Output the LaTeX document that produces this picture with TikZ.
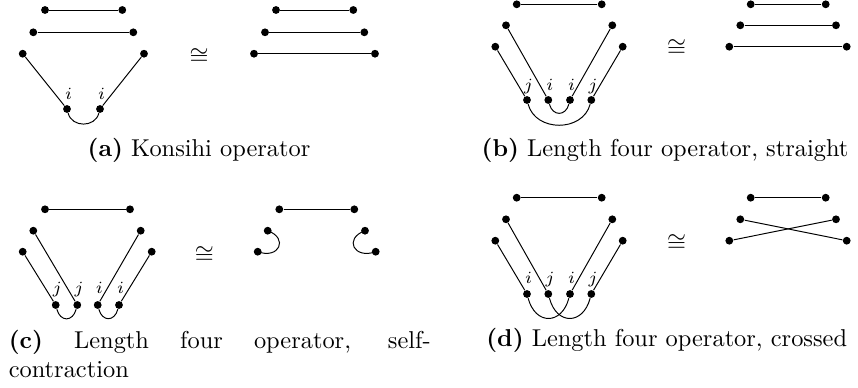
\documentclass[tikz,border=0pt]{standalone}
\usepackage{amsmath, amssymb}

\begin{document}
\begin{tikzpicture}[x=0.41pt, y=0.41pt,
    ponto/.style={circle, fill, inner sep=0pt, minimum size=3.2pt},
    indice/.style={anchor=base, inner sep=0pt, font=\fontsize{7}{8}\selectfont},
    equiv/.style={inner sep=0pt, font=\fontsize{10}{12}\selectfont},
    legenda/.style={anchor=base, inner sep=0pt}]
    \useasboundingbox (0,0) rectangle (858,-387);

    % (a) Konsihi
    \foreach \n/\x/\y in {a1/45/10, a2/122.3/10, a3/33.3/32.3, a4/133.3/32.3,
                          a5/22.7/53.7, a6/144/53.7, a7/67/109, a8/100/109}
        \node[ponto] (\n) at (\x,-\y) {};
    \draw (a1) -- (a2);
    \draw (a3) -- (a4);
    \draw (a5) -- (a7);
    \draw (a6) -- (a8);
    \draw (a7) to[out=-75, in=-105, looseness=1.25] (a8);
    \foreach \n/\x/\y/\t in {ia1/68.5/99/i, ia2/101.5/99/i}
        \node[indice] (\n) at (\x,-\y) {$\t$};
    \node[equiv] (ea) at (199,-56.5) {$\cong$};
    \foreach \n/\x/\y in {ar1/276/10, ar2/353.3/10, ar3/265/32.3, ar4/364.3/32.3,
                          ar5/254/53.7, ar6/375/53.7}
        \node[ponto] (\n) at (\x,-\y) {};
    \draw (ar1) -- (ar2);
    \draw (ar3) -- (ar4);
    \draw (ar5) -- (ar6);
    \node[legenda] (la) at (199,-156) {\textbf{(a)} Konsihi operator};

    % (b) comprimento quatro, reto
    \foreach \n/\x/\y in {b1/516.7/4.3, b2/601.7/4.3, b3/506/25.3, b4/612.3/25.3,
                          b5/495.3/46.7, b6/622.7/46.7, b7/527/100, b8/548.3/100,
                          b9/570/100, b10/591.3/100}
        \node[ponto] (\n) at (\x,-\y) {};
    \draw (b1) -- (b2);
    \draw (b5) -- (b7);
    \draw (b3) -- (b8);
    \draw (b4) -- (b9);
    \draw (b6) -- (b10);
    \draw (b8) to[out=-75, in=-105, looseness=1.66] (b9);
    \draw (b7) to[out=-75, in=-105, looseness=1.2] (b10);
    \foreach \n/\x/\y/\t in {ib1/528.5/90.7/j, ib2/549.8/90.7/i,
                             ib3/571.5/90.7/i, ib4/592.8/90.7/j}
        \node[indice] (\n) at (\x,-\y) {$\t$};
    \node[equiv] (eb) at (676.7,-48.3) {$\cong$};
    \foreach \n/\x/\y in {br1/750.7/4.3, br2/825.7/4.3, br3/740.3/25.3, br4/836/25.3,
                          br5/729.3/46.7, br6/846.7/46.7}
        \node[ponto] (\n) at (\x,-\y) {};
    \draw (br1) -- (br2);
    \draw (br3) -- (br4);
    \draw (br5) -- (br6);
    \node[legenda] (lb) at (665,-156) {\textbf{(b)} Length four operator, straight};

    % (c) comprimento quatro, autocontracao
    \foreach \n/\x/\y in {c1/45/209.3, c2/130/209.3, c3/33.3/230.7, c4/140.7/230.7,
                          c5/22.7/251.7, c6/151.7/251.7, c7/55.7/305, c8/77.3/305,
                          c9/97.7/305, c10/119/305}
        \node[ponto] (\n) at (\x,-\y) {};
    \draw (c1) -- (c2);
    \draw (c5) -- (c7);
    \draw (c3) -- (c8);
    \draw (c4) -- (c9);
    \draw (c6) -- (c10);
    \draw (c7) to[out=-75, in=-105, looseness=1.76] (c8);
    \draw (c9) to[out=-75, in=-105, looseness=1.76] (c10);
    \foreach \n/\x/\y/\t in {ic1/57.2/293/j, ic2/78.8/293/j,
                             ic3/99.2/293/i, ic4/120.5/293/i}
        \node[indice] (\n) at (\x,-\y) {$\t$};
    \node[equiv] (ec) at (204.3,-255) {$\cong$};
    \foreach \n/\x/\y in {cr1/279.3/209.3, cr2/354.3/209.3, cr3/267.7/230.7,
                          cr4/257.7/251.7, cr5/365/230.7, cr6/375.7/251.7}
        \node[ponto] (\n) at (\x,-\y) {};
    \draw (cr1) -- (cr2);
    \draw (cr3.center) to[out=-20, in=-20, looseness=2.5] (cr4.center);
    \draw (cr5.center) to[out=-160, in=-160, looseness=2.5] (cr6.center);
    \node[legenda, anchor=base west, text width=173pt, align=justify] (lc) at (8.3,-348.3)
        {\textbf{(c)} Length four operator, self-\linebreak contraction};

    % (d) comprimento quatro, cruzado
    \foreach \n/\x/\y in {d1/516.7/197.7, d2/601.7/197.7, d3/506/219.3, d4/612.3/219.3,
                          d5/495.3/240.7, d6/622.7/240.7, d7/527/294, d8/548.3/294,
                          d9/570/294, d10/591.3/294}
        \node[ponto] (\n) at (\x,-\y) {};
    \draw (d1) -- (d2);
    \draw (d5) -- (d7);
    \draw (d3) -- (d8);
    \draw (d4) -- (d9);
    \draw (d6) -- (d10);
    \draw (d7) to[out=-75, in=-105, looseness=1.76] (d9);
    \draw (d8) to[out=-75, in=-105, looseness=1.76] (d10);
    \foreach \n/\x/\y/\t in {id1/528.5/283.3/i, id2/549.8/283.3/j,
                             id3/571.5/283.3/i, id4/592.8/283.3/j}
        \node[indice] (\n) at (\x,-\y) {$\t$};
    \node[equiv] (ed) at (676.7,-243.3) {$\cong$};
    \foreach \n/\x/\y in {dr1/750.7/197.7, dr2/825.7/197.7, dr3/740.3/219.3,
                          dr4/836/219.3, dr5/729.3/240.7, dr6/846.7/240.7}
        \node[ponto] (\n) at (\x,-\y) {};
    \draw (dr1) -- (dr2);
    \draw (dr3) -- (dr6);
    \draw (dr5) -- (dr4);
    \node[legenda] (ld) at (666.7,-346.7) {\textbf{(d)} Length four operator, crossed};
\end{tikzpicture}
\end{document}
